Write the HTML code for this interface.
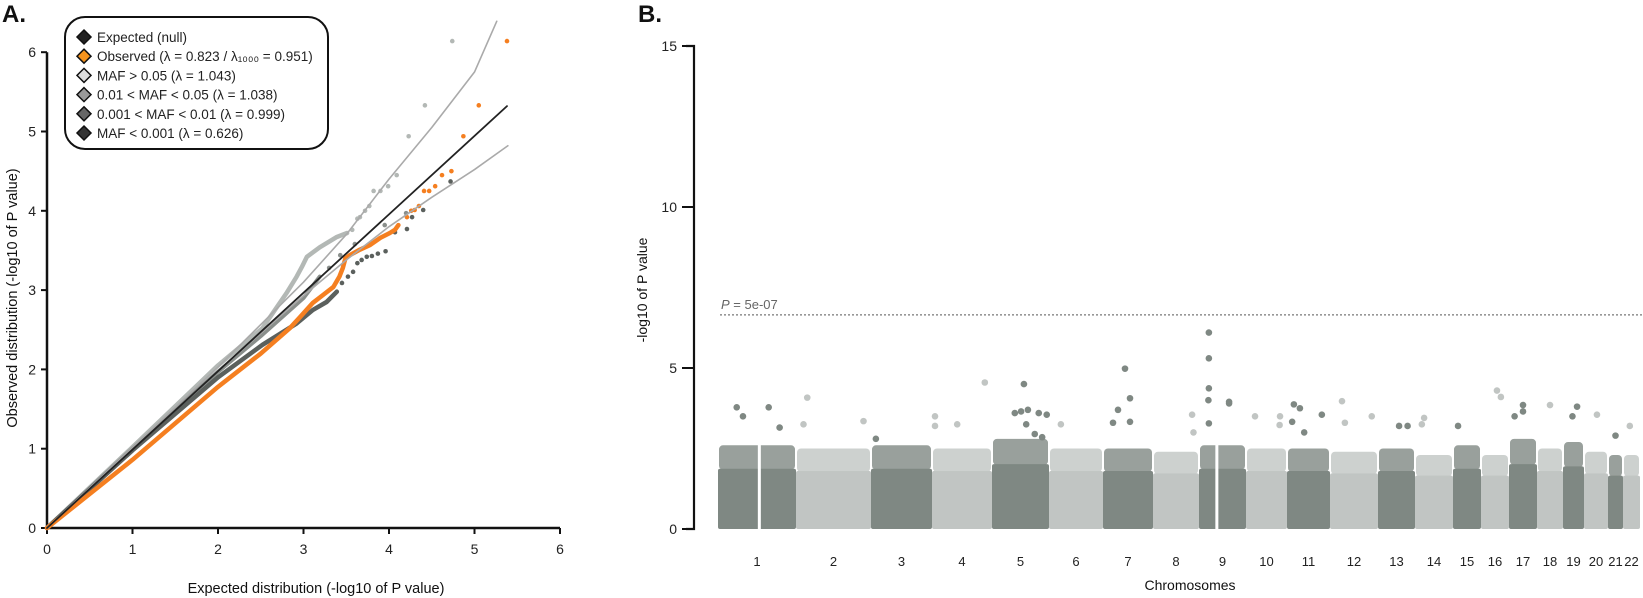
<!DOCTYPE html>
<html><head><meta charset="utf-8"><style>
html,body{margin:0;padding:0;background:#fff;}
svg{display:block;font-family:"Liberation Sans",sans-serif;}
</style></head><body>
<svg id="fig" width="1643" height="598" viewBox="0 0 1643 598" xmlns="http://www.w3.org/2000/svg">
<text x="2" y="22" font-size="24" font-weight="bold" fill="#111">A.</text>
<text x="638" y="22" font-size="24" font-weight="bold" fill="#111">B.</text>
<g id="qq"></g>
<g id="man"></g>
</svg>
<script>
// ---------- QQ plot data ----------
const qqTicks = [0,1,2,3,4,5,6];
const nullLine = [[0,0],[5.38,5.32]];
const bandUpper = [[0,0],[2,2.03],[3,3.1],[3.5,3.7],[4.0,4.4],[4.5,5.05],[5.0,5.75],[5.26,6.39]];
const bandLower = [[0,0],[2,1.98],[3,2.93],[3.5,3.38],[4.0,3.8],[4.5,4.17],[5.0,4.52],[5.39,4.82]];
const lightLine = [[0,0],[1,1.02],[2,2.05],[2.52,2.52],[2.8,2.96],[2.92,3.17],[2.98,3.29],[3.04,3.42],[3.19,3.54],[3.39,3.67],[3.51,3.72]];
const lightTail = [[3.57,3.76],[3.63,3.9],[3.66,3.92],[3.72,4.0],[3.77,4.06],[3.82,4.25],[3.9,4.25],[3.99,4.31],[4.09,4.45],[4.23,4.94],[4.42,5.33],[4.74,6.14]];
const midLine = [[0,0],[1,1.0],[2,1.97],[2.5,2.42],[3.0,2.9],[3.19,3.17]];
const midTail = [[3.3,3.28],[3.43,3.44],[3.6,3.58],[3.95,3.82],[4.2,3.97]];
const darkLine = [[0,0],[1,0.98],[2,1.9],[2.52,2.31],[2.92,2.58],[3.11,2.75],[3.27,2.85],[3.39,2.98]];
const darkTail = [[3.45,3.09],[3.52,3.17],[3.58,3.23],[3.63,3.34],[3.68,3.38],[3.74,3.42],[3.8,3.43],[3.87,3.46],[3.96,3.49],[4.07,3.73],[4.21,3.77],[4.27,3.92],[4.4,4.01],[4.72,4.37]];
const obsLine = [[0,0],[1,0.86],[2,1.78],[2.5,2.2],[2.84,2.52],[2.96,2.66],[3.11,2.84],[3.23,2.94],[3.35,3.04],[3.42,3.17],[3.46,3.28],[3.49,3.4],[3.54,3.44],[3.66,3.51],[3.78,3.57],[3.9,3.66],[4.01,3.72],[4.07,3.76],[4.11,3.82]];
const obsTail = [[4.21,3.92],[4.26,4.0],[4.3,4.01],[4.35,4.06],[4.41,4.25],[4.47,4.25],[4.54,4.31],[4.62,4.45],[4.73,4.5],[4.87,4.94],[5.05,5.33],[5.38,6.14]];
const legendLabels = ["Expected (null)","Observed (λ = 0.823 / λ₁₀₀₀ = 0.951)","MAF > 0.05 (λ = 1.043)","0.01 < MAF < 0.05  (λ = 1.038)","0.001 < MAF < 0.01 (λ = 0.999)","MAF < 0.001 (λ = 0.626)"];
const legendColors = ["#222","#f7941d","#ddd","#999","#666","#333"];

// ---------- Manhattan data ----------
const chroms = ["1","2","3","4","5","6","7","8","9","10","11","12","13","14","15","16","17","18","19","20","21","22"];
const chromSize = [78,75,61,60,57,54,50,46,47,41,43,48,37,38,28,28,28,26,21,24,15,17];
const chromTop = [2.6,2.5,2.6,2.5,2.8,2.5,2.5,2.4,2.6,2.5,2.5,2.4,2.5,2.3,2.6,2.3,2.8,2.5,2.7,2.4,2.3,2.3];
const gapChrom = [0,8];
const gapFrac = [0.53,0.38];
const manTicks = [0,5,10,15];
const threshold = 6.65;
// peaks: chromosome index, fraction along chromosome, -log10 p
const peakChr  = [0,0,0,0,1,1,1,2,3,3,3,3,4,4,4,4,4,4,4,4,4,5,6,6,6,6,6,7,7,8,8,8,8,8,8,8,9,9,9,10,10,10,10,10,11,11,11,12,12,13,13,14,15,15,16,16,16,17,18,18,19,20,21];
const peakPos  = [0.24,0.32,0.65,0.79,0.15,0.10,0.9,0.08,0.05,0.05,0.42,0.88,0.56,0.4,0.51,0.63,0.82,0.96,0.6,0.75,0.88,0.22,0.54,0.3,0.2,0.54,0.44,0.85,0.88,0.21,0.21,0.21,0.2,0.64,0.64,0.21,0.22,0.83,0.82,0.16,0.3,0.12,0.81,0.4,0.25,0.31,0.87,0.57,0.8,0.24,0.18,0.18,0.57,0.71,0.5,0.5,0.2,0.5,0.67,0.45,0.54,0.5,0.4];
const peakVal  = [3.78,3.5,3.78,3.15,4.08,3.25,3.35,2.8,3.5,3.2,3.25,4.55,4.5,3.6,3.65,3.7,3.6,3.55,3.25,2.95,2.85,3.25,4.06,3.7,3.3,3.33,4.98,3.55,3.0,6.1,5.3,4.37,4.0,3.95,3.9,3.28,3.5,3.5,3.23,3.87,3.75,3.33,3.55,3.0,3.97,3.3,3.5,3.2,3.2,3.45,3.25,3.2,4.3,4.1,3.85,3.65,3.5,3.85,3.8,3.5,3.55,2.9,3.2];

const NS="http://www.w3.org/2000/svg";
function mk(tag, attrs, parent){const e=document.createElementNS(NS,tag);for(const k in attrs)e.setAttribute(k,attrs[k]);parent.appendChild(e);return e;}

// ---------- draw QQ ----------
const qq=document.getElementById('qq');
const qx=v=>47+85.5*v, qy=v=>528-79.3*v;
let ax=mk('path',{d:`M${qx(0)},${qy(6)} L${qx(0)},${qy(0)} L${qx(6)},${qy(0)}`,fill:'none',stroke:'#111','stroke-width':2.5},qq);


qqTicks.forEach(t=>{
  let a=mk('line',{x1:qx(0)-6,x2:qx(0),y1:qy(t),y2:qy(t),stroke:'#111','stroke-width':2},qq);
  
  
  let b=mk('line',{x1:qx(t),x2:qx(t),y1:qy(0),y2:qy(0)+6,stroke:'#111','stroke-width':2},qq);
  
  
  let ty=mk('text',{x:qx(0)-11,y:qy(t)+5,'text-anchor':'end','font-size':14,fill:'#222'},qq);ty.textContent=t;
  
  
  let tx=mk('text',{x:qx(t),y:qy(0)+26,'text-anchor':'middle','font-size':14,fill:'#222'},qq);tx.textContent=t;
  
  
});
let xt=mk('text',{x:316,y:593,'text-anchor':'middle','font-size':14.5,fill:'#111'},qq);xt.textContent='Expected distribution (-log10 of P value)';


let yt=mk('text',{x:0,y:0,'text-anchor':'middle','font-size':14.5,fill:'#111',transform:'translate(17,298) rotate(-90)'},qq);yt.textContent='Observed distribution (-log10 of P value)';



function pl(arr,color,w,name){
  const p=mk('polyline',{points:arr.map(d=>qx(d[0])+','+qy(d[1])).join(' '),fill:'none',stroke:color,'stroke-width':w,'stroke-linejoin':'round','stroke-linecap':'round'},qq);
  
  
}
function pts(arr,color,name){
  arr.forEach(d=>{
    const c=mk('circle',{cx:qx(d[0]),cy:qy(d[1]),r:2.3,fill:color},qq);
    
    
  });
}
pl(lightLine,'#b3b8b5',4.5,'maf-common-line');pts(lightTail,'#b3b8b5','maf-common-point');
pl(midLine,'#8a8f8c',4,'maf-low-line');pts(midTail,'#8a8f8c','maf-low-point');
pl(darkLine,'#5b605d',4.5,'maf-rare-line');pts(darkTail,'#5b605d','maf-rare-point');
pl(obsLine,'#f57f20',4.5,'observed-line');pts(obsTail,'#f57f20','observed-point');
pl(bandUpper,'#aaa',1.6,'ci-upper');
pl(bandLower,'#aaa',1.6,'ci-lower');
pl(nullLine,'#222',1.8,'null-line');

// legend
const lg=mk('g',{},qq);


mk('rect',{x:65,y:17,width:263,height:132,rx:20,ry:20,fill:'#fff',stroke:'#111','stroke-width':2},lg);
legendLabels.forEach((l,i)=>{
  const y=37+i*19.2;
  const e=mk('g',{},lg);
  
  
  mk('path',{d:`M84,${y-7} L91,${y} L84,${y+7} L77,${y} Z`,fill:legendColors[i],stroke:'#111','stroke-width':1.5},e);
  const t=mk('text',{x:97,y:y+5,'font-size':13.5,fill:'#222'},e);t.textContent=l;
});

// ---------- draw Manhattan ----------
const man=document.getElementById('man');
const total=chromSize.reduce((a,b)=>a+b,0);
const mx0=718,mx1=1640;
const my=v=>529-32.2*v;
const starts=[];let acc=0;chromSize.forEach(s=>{starts.push(acc);acc+=s;});
const mxs=u=>mx0+(mx1-mx0)*u/total;
let max=mk('path',{d:`M686,${my(15)} L694,${my(15)} L694,${my(0)} L686,${my(0)}`,fill:'none',stroke:'#111','stroke-width':2.2},man);


manTicks.forEach(t=>{
  const l=mk('line',{x1:682,x2:694,y1:my(t),y2:my(t),stroke:'#111','stroke-width':2},man);
  
  
  const tx=mk('text',{x:677,y:my(t)+5,'text-anchor':'end','font-size':14,fill:'#222'},man);tx.textContent=t;
  
  
});
let myt=mk('text',{x:0,y:0,'text-anchor':'middle','font-size':14,fill:'#111',transform:'translate(647,290) rotate(-90)'},man);myt.textContent='-log10 of P value';


let mxt=mk('text',{x:1190,y:590,'text-anchor':'middle','font-size':14,fill:'#111'},man);mxt.textContent='Chromosomes';



chroms.forEach((c,i)=>{
  const col=i%2===0?'#7f8883':'#c1c5c3';
  const xa=mxs(starts[i]), xb=mxs(starts[i]+chromSize[i]);
  const g=mk('g',{},man);
  
  
  const core=chromTop[i]*0.72;
  mk('rect',{x:xa,y:my(core),width:xb-xa,height:my(0)-my(core),rx:2,fill:col},g);
  mk('rect',{x:xa+1,y:my(chromTop[i]),width:xb-xa-2,height:my(core)-my(chromTop[i])+1,rx:4,fill:col,opacity:0.8},g);
  const lab=mk('text',{x:(xa+xb)/2,y:566,'text-anchor':'middle','font-size':13,fill:'#222'},man);lab.textContent=c;
  
  
});
gapChrom.forEach((ci,k)=>{
  const gx=mxs(starts[ci]+chromSize[ci]*gapFrac[k]);
  const r=mk('rect',{x:gx-1.5,y:my(chromTop[ci])-2,width:3,height:my(0)-my(chromTop[ci])+4,fill:'#fff'},man);
  
  
});
peakChr.forEach((ci,k)=>{
  const col=ci%2===0?'#7f8883':'#c1c5c3';
  const c=mk('circle',{cx:mxs(starts[ci]+chromSize[ci]*peakPos[k]),cy:my(peakVal[k]),r:3.3,fill:col},man);
  
  
});
let th=mk('line',{x1:720,x2:1643,y1:my(threshold),y2:my(threshold),stroke:'#777','stroke-width':1.3,'stroke-dasharray':'2,2'},man);


let tht=mk('text',{x:721,y:my(threshold)-6,'font-size':13,fill:'#666'},man);
tht.innerHTML='<tspan font-style="italic">P</tspan> = 5e-07';


</script>
</body></html>
